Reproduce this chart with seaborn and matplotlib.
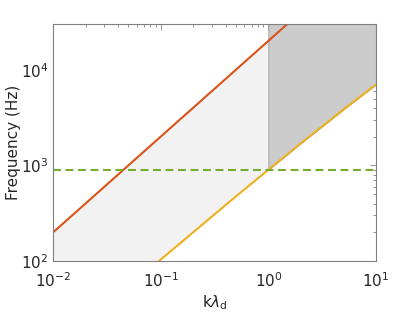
import numpy as np
import pandas as pd
import matplotlib
matplotlib.use("Agg")
import matplotlib.pyplot as plt
import seaborn as sns

# data
k_line = [0.01, 0.1, 1, 10]
f_upper = [200, 2000, 20000, 200000]          # red line, f ~ k
k_lower = [0.096, 0.2, 0.5, 1, 2, 5, 10]
f_lower = [100, 200, 475, 900, 1700, 3850, 7000]   # yellow curve
f_level = 890                                  # green dashed level
k_split = 1.0

xlim = (1e-2, 1e1)
ylim = (1e2, 3e4)

sns.set_theme(style="white")
plt.rcParams["font.family"] = ["DejaVu Sans"]

fig = plt.figure(figsize=(4.15, 3.12), dpi=100)
ax = fig.add_axes([0.128, 0.163, 0.778, 0.760])

# shaded regions
lk, lf = np.log10(k_lower), np.log10(f_lower)
kk = np.logspace(-2, np.log10(k_split), 300)
low = np.maximum(10 ** np.interp(np.log10(kk), lk, lf, left=1), ylim[0])
up = 10 ** np.interp(np.log10(kk), np.log10(k_line), np.log10(f_upper))
ax.fill_between(kk, low, up, color="#f2f2f2", lw=0)

kk2 = np.logspace(np.log10(k_split), 1, 200)
low2 = 10 ** np.interp(np.log10(kk2), lk, lf)
ax.fill_between(kk2, low2, ylim[1], facecolor="#cccccc", edgecolor="#a6a6a6", lw=0.7)

df_up = pd.DataFrame({"k": k_line, "f": f_upper})
df_low = pd.DataFrame({"k": k_lower, "f": f_lower})
df_lvl = pd.DataFrame({"k": [xlim[0], xlim[1]], "f": [f_level, f_level]})

sns.lineplot(data=df_up, x="k", y="f", ax=ax, color="#D95319", lw=1.5)
sns.lineplot(data=df_low, x="k", y="f", ax=ax, color="#EDB120", lw=1.5)
sns.lineplot(data=df_lvl, x="k", y="f", ax=ax, color="#77AC30", lw=1.5,
             linestyle=(0, (3.8, 2.2)))

ax.set_xscale("log")
ax.set_yscale("log")
ax.set_xlim(*xlim)
ax.set_ylim(*ylim)
ax.set_xlabel(r"k$\lambda_{\rm d}$", fontsize=11, color="#262626", labelpad=3)
ax.set_ylabel("Frequency (Hz)", fontsize=11, color="#262626", labelpad=0)

for s in ax.spines.values():
    s.set_color("#808080")
    s.set_linewidth(0.8)
ax.tick_params(which="both", direction="in", top=True, right=True,
               colors="#808080", labelcolor="#262626", labelsize=11)
ax.tick_params(which="major", length=4, width=0.6)
ax.tick_params(which="minor", length=2.5, width=0.6)
ax.tick_params(axis="x", which="both", pad=7)
ax.grid(False)

fig.savefig("out.png", dpi=100)
